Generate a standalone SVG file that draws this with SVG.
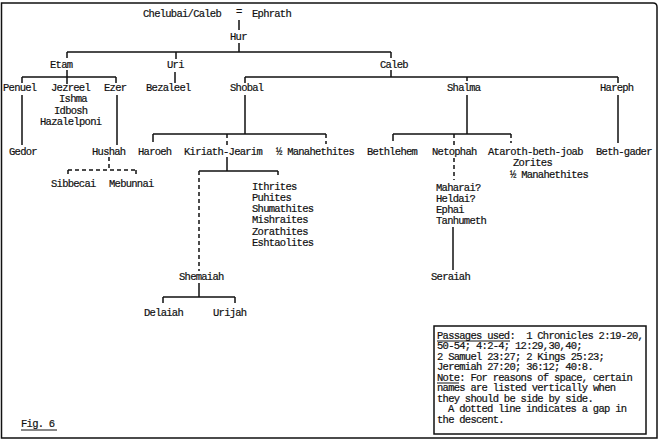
<svg xmlns="http://www.w3.org/2000/svg" width="661" height="441" viewBox="0 0 661 441">
<style>
text{font-family:"Liberation Mono","DejaVu Sans Mono",monospace;font-size:10.5px;letter-spacing:-0.73px;fill:#111;stroke:#111;stroke-width:0.2;white-space:pre}
.l{stroke:#111;stroke-width:1.5;fill:none}
.d{stroke:#111;stroke-width:1.5;fill:none;stroke-dasharray:4 3}
.u{stroke:#111;stroke-width:1;fill:none}
</style>
<rect width="661" height="441" fill="#fff"/>
<path class="l" d="M1.5,3 H653 Q657,3 657,7 V438 H1.5 Z" stroke-width="2"/>
<g id="connectors">
<path class="l" d="M239,20 V30 M239,43 V52 M67,52 H391 M67,52 V58 M176,52 V59 M391,52 V58"/>
<path class="l" d="M67,70 V84 M22,77 H116 M22,77 V83 M116,77 V83 M22,95 V145 M117,95 V145"/>
<path class="l" d="M175,72 V83"/>
<path class="l" d="M391,70 V77 M245,77 H618 M245,77 V83 M467,77 V81 M618,77 V83"/>
<path class="l" d="M245,95 V134 M153,134 H326 M153,134 V142"/>
<path class="d" d="M227,134 V146 M326,134 V144"/>
<path class="d" d="M109,157 V170 M68,170 H136 M68,170 V177 M136,170 V177"/>
<path class="l" d="M227,157 V171 M199,171 H278"/>
<path class="d" d="M278,171 V178 M199,171 V271"/>
<path class="l" d="M199,283 V297 M163,297 H235 M163,297 V303 M235,297 V303"/>
<path class="l" d="M467,95 V134 M393,134 H511 M393,134 V141 M618,95 V143"/>
<path class="d" d="M454,134 V145 M511,134 V143 M454,158 V180"/>
<path class="l" d="M453,227 V270"/>
</g>
<g id="top"><text x="143" y="16.5">Chelubai/Caleb</text><text x="236" y="15">=</text><text x="252" y="16.5">Ephrath</text></g>
<g id="hur"><text x="230" y="40">Hur</text></g>
<g id="etam"><text x="50" y="67.5">Etam</text></g>
<g id="uri"><text x="167" y="67.5">Uri</text></g>
<g id="caleb"><text x="380" y="67.5">Caleb</text></g>
<g id="penuel"><text x="3" y="91">Penuel</text></g>
<g id="jezreel"><text x="51" y="91">Jezreel</text><text x="59" y="102.3">Ishma</text><text x="54" y="113.6">Idbosh</text><text x="40" y="124.9">Hazalelponi</text></g>
<g id="ezer"><text x="104" y="91">Ezer</text></g>
<g id="bezaleel"><text x="146" y="91">Bezaleel</text></g>
<g id="shobal"><text x="230" y="91">Shobal</text></g>
<g id="shalma"><text x="447" y="91">Shalma</text></g>
<g id="hareph"><text x="600" y="91">Hareph</text></g>
<g id="gedor"><text x="9" y="155">Gedor</text></g>
<g id="hushah"><text x="92" y="155">Hushah</text></g>
<g id="haroeh"><text x="138" y="155">Haroeh</text></g>
<g id="kiriath"><text x="184" y="155">Kiriath-Jearim</text></g>
<g id="manahethites1"><text x="276" y="155">½ Manahethites</text></g>
<g id="bethlehem"><text x="367" y="155">Bethlehem</text></g>
<g id="netophah"><text x="432" y="155">Netophah</text></g>
<g id="ataroth"><text x="488" y="155">Ataroth-beth-joab</text><text x="513" y="166.3">Zorites</text><text x="510" y="177.6">½ Manahethites</text></g>
<g id="bethgader"><text x="596" y="155">Beth-gader</text></g>
<g id="sibbecai"><text x="51" y="187">Sibbecai</text></g>
<g id="mebunnai"><text x="109" y="187">Mebunnai</text></g>
<g id="ithrites"><text x="252" y="189.5">Ithrites</text><text x="252" y="200.8">Puhites</text><text x="252" y="212.1">Shumathites</text><text x="252" y="223.4">Mishraites</text><text x="252" y="234.7">Zorathites</text><text x="252" y="246">Eshtaolites</text></g>
<g id="maharai"><text x="436" y="190.5">Maharai?</text><text x="436" y="201.8">Heldai?</text><text x="436" y="213.1">Ephai</text><text x="436" y="224.4">Tanhumeth</text></g>
<g id="seraiah"><text x="431" y="280">Seraiah</text></g>
<g id="shemaiah"><text x="179" y="280">Shemaiah</text></g>
<g id="delaiah"><text x="144" y="315.5">Delaiah</text></g>
<g id="urijah"><text x="213" y="315.5">Urijah</text></g>
<g id="fig"><text x="21" y="426.5">Fig. 6</text><path class="u" d="M21,430 H57"/></g>
<g id="note">
<rect x="434" y="326" width="212" height="108" class="l"/>
<text x="437" y="338.5" xml:space="preserve">Passages used:  1 Chronicles 2:19-20,</text>
<path class="u" d="M437,341 H510"/>
<text x="437" y="349">50-54; 4:2-4; 12:29,30,40;</text>
<text x="437" y="359.5">2 Samuel 23:27; 2 Kings 25:23;</text>
<text x="437" y="370">Jeremiah 27:20; 36:12; 40:8.</text>
<text x="437" y="380.5">Note: For reasons of space, certain</text>
<path class="u" d="M437,383 H459"/>
<text x="437" y="391">names are listed vertically when</text>
<text x="437" y="401.5">they should be side by side.</text>
<text x="448" y="412">A dotted line indicates a gap in</text>
<text x="437" y="422.5">the descent.</text>
</g>
</svg>
